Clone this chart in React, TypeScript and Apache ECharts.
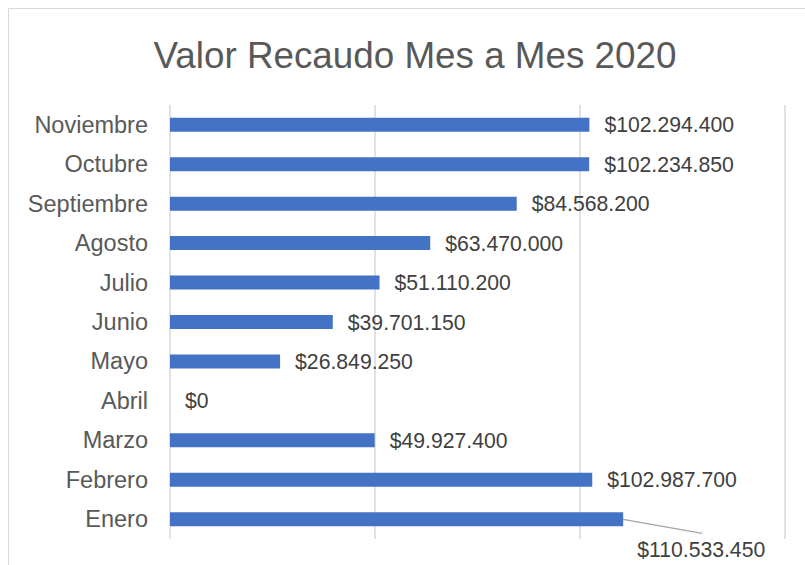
import React, { useEffect, useRef } from "react";
import * as echarts from "echarts";

const titleText = "Valor Recaudo Mes a Mes 2020";
const categories = [
  "Enero",
  "Febrero",
  "Marzo",
  "Abril",
  "Mayo",
  "Junio",
  "Julio",
  "Agosto",
  "Septiembre",
  "Octubre",
  "Noviembre",
];
const values = [
  110533450, 102987700, 49927400, 0, 26849250, 39701150, 51110200, 63470000,
  84568200, 102234850, 102294400,
];
const axisMin = 0;
const axisMax = 150000000;
const axisInterval = 50000000;

const FONT = "'Liberation Sans', Arial, Helvetica, sans-serif";

function fmt(v: number): string {
  const s = Math.round(v).toString();
  return "$" + s.replace(/\B(?=(\d{3})+(?!\d))/g, ".");
}

export default function App() {
  const ref = useRef<HTMLDivElement>(null);
  useEffect(() => {
    if (!ref.current) return;
    const chart = echarts.init(ref.current, null, { renderer: "svg" });
    const option: any = {
      animation: false,
      backgroundColor: "#ffffff",
      title: {
        text: titleText,
        left: 410,
        textAlign: "center",
        top: 31.5,
        textStyle: {
          fontFamily: FONT,
          fontSize: 36.8,
          fontWeight: "normal",
          color: "#595959",
        },
      },
      grid: {
        left: 170,
        right: 20,
        top: 105,
        bottom: 26,
        containLabel: false,
      },
      xAxis: {
        type: "value",
        min: axisMin,
        max: axisMax,
        interval: axisInterval,
        axisLabel: { show: false },
        axisLine: { show: false },
        axisTick: { show: false },
        splitLine: { show: true, lineStyle: { color: "#d9d9d9", width: 1.5 } },
      },
      yAxis: {
        type: "category",
        data: categories,
        axisLine: { show: false },
        axisTick: { show: false },
        axisLabel: {
          margin: 22,
          fontFamily: FONT,
          fontSize: 23.5,
          color: "#595959",
        },
      },
      series: [
        {
          type: "bar",
          data: values,
          barWidth: 14,
          itemStyle: { color: "#4472c4" },
          label: {
            show: true,
            position: "right",
            distance: 15,
            fontFamily: FONT,
            fontSize: 21.2,
            color: "#404040",
            formatter: (p: any) => fmt(p.value),
          },
          labelLayout: (p: any) =>
            p.dataIndex === 0 ? { dx: -1, dy: 30 } : {},
        },
      ],
    };
    chart.setOption(option);
    const end = chart.convertToPixel({ xAxisIndex: 0, yAxisIndex: 0 }, [
      values[0],
      0,
    ]) as number[];
    const w = chart.getWidth();
    const h = chart.getHeight();
    chart.setOption({
      graphic: [
        {
          type: "rect",
          silent: true,
          shape: { x: 8.5, y: 8.5, width: w + 20, height: h + 20 },
          style: { fill: "none", stroke: "#d9d9d9", lineWidth: 1 },
        },
        {
          type: "line",
          silent: true,
          shape: { x1: end[0], y1: end[1], x2: end[0] + 79, y2: end[1] + 14 },
          style: { stroke: "#a6a6a6", lineWidth: 1.25 },
        },
      ],
    });
    return () => chart.dispose();
  }, []);
  return (
    <div
      style={{
        position: "fixed",
        left: 0,
        top: 0,
        width: 805,
        height: 565,
        overflow: "hidden",
        background: "#fff",
      }}
    >
      <div ref={ref} style={{ width: 805, height: 565 }} />
    </div>
  );
}
